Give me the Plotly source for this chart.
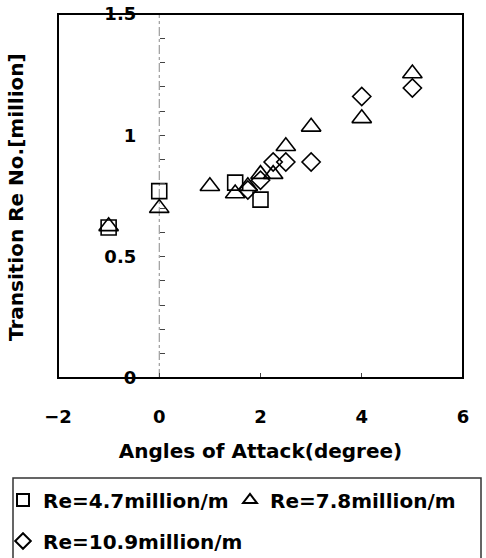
import plotly.graph_objects as go

# Data
sq_x = [-1, 0, 1.5, 2]
sq_y = [0.62, 0.77, 0.805, 0.735]
tri_x = [-1, 0, 1, 1.5, 1.75, 2, 2.25, 2.5, 3, 4, 5]
tri_y = [0.625, 0.70, 0.79, 0.76, 0.79, 0.84, 0.84, 0.955, 1.035, 1.07, 1.255]
dia_x = [1.75, 2, 2.25, 2.5, 3, 4, 5]
dia_y = [0.775, 0.815, 0.89, 0.89, 0.89, 1.16, 1.195]

names = ["Re=4.7million/m", "Re=7.8million/m", "Re=10.9million/m"]
x_ticks = [-2, 0, 2, 4, 6]
y_ticks = [0, 0.5, 1, 1.5]
y_tick_text = ["0", "0.5", "1", "1.5"]

FONT = "DejaVu Sans"
W, H = 486, 558
ML, MR, MT, MB = 58, 23, 14, 180
PW, PH = W - ML - MR, H - MT - MB


def px_x(p):
    return (p - ML) / PW


def px_y(p):
    return (H - MB - p) / PH


fig = go.Figure()
fig.add_trace(go.Scatter(
    x=sq_x, y=sq_y, mode="markers", name=names[0], legend="legend",
    marker=dict(symbol="square-open", size=15, color="black", line=dict(width=1.6, color="black")),
))
fig.add_trace(go.Scatter(
    x=tri_x, y=tri_y, mode="markers", name=names[1], legend="legend2",
    marker=dict(symbol="triangle-up-open", size=17, color="black", line=dict(width=1.6, color="black")),
))
fig.add_trace(go.Scatter(
    x=dia_x, y=dia_y, mode="markers", name=names[2], legend="legend3",
    marker=dict(symbol="diamond-open", size=14, color="black", line=dict(width=1.6, color="black")),
))

legend_common = dict(
    orientation="h", xanchor="left", yanchor="middle", bgcolor="rgba(0,0,0,0)",
    borderwidth=0, itemsizing="constant", xref="container", yref="container",
    font=dict(family=FONT, size=20, color="black", weight="bold"),
)

fig.update_layout(
    width=W, height=H,
    margin=dict(l=ML, r=MR, t=MT, b=MB, pad=0, autoexpand=False),
    paper_bgcolor="white", plot_bgcolor="white",
    font=dict(family=FONT, color="black"),
    showlegend=True,
    legend=dict(x=3 / W, y=1 - 500 / H, **legend_common),
    legend2=dict(x=230 / W, y=1 - 500 / H, **legend_common),
    legend3=dict(x=3 / W, y=1 - 541 / H, **legend_common),
    xaxis=dict(
        range=[-2, 6], tickvals=x_ticks, showgrid=False, zeroline=False, showline=False,
        ticks="inside", ticklen=5, tickcolor="#444", tickwidth=1,
        ticklabelstandoff=26, automargin=False,
        tickfont=dict(family=FONT, size=18, color="black", weight="bold"),
        title=dict(text="Angles of Attack(degree)", standoff=17,
                   font=dict(family=FONT, size=20, color="black", weight="bold")),
    ),
    yaxis=dict(
        range=[0, 1.5], tickvals=y_ticks, ticktext=y_tick_text, showgrid=False, zeroline=False,
        showline=False, anchor="free", position=0.25, automargin=False,
        ticks="inside", ticklen=5, tickcolor="#444", tickwidth=1,
        minor=dict(dtick=0.1, ticks="inside", ticklen=5, tickcolor="#444", tickwidth=1),
        ticklabelstandoff=23,
        tickfont=dict(family=FONT, size=18, color="black", weight="bold"),
    ),
    shapes=[
        # dashed y-axis line at x=0
        dict(type="line", xref="x", yref="paper", x0=0, x1=0, y0=0, y1=1,
             line=dict(color="#888", width=1, dash="dashdot"), layer="below"),
        # plot frame
        dict(type="rect", xref="paper", yref="paper", x0=0, x1=1, y0=0, y1=1,
             line=dict(color="black", width=2)),
        # legend box
        dict(type="rect", xref="paper", yref="paper",
             x0=px_x(13), x1=px_x(481), y0=px_y(570), y1=px_y(478),
             line=dict(color="#333", width=1.5)),
    ],
    annotations=[
        dict(text="Transition Re No.[million]", xref="paper", yref="paper",
             x=px_x(16), y=px_y(197), textangle=-90, showarrow=False,
             xanchor="center", yanchor="middle",
             font=dict(family=FONT, size=20, color="black", weight="bold")),
    ],
)

fig.write_html("out.html")
